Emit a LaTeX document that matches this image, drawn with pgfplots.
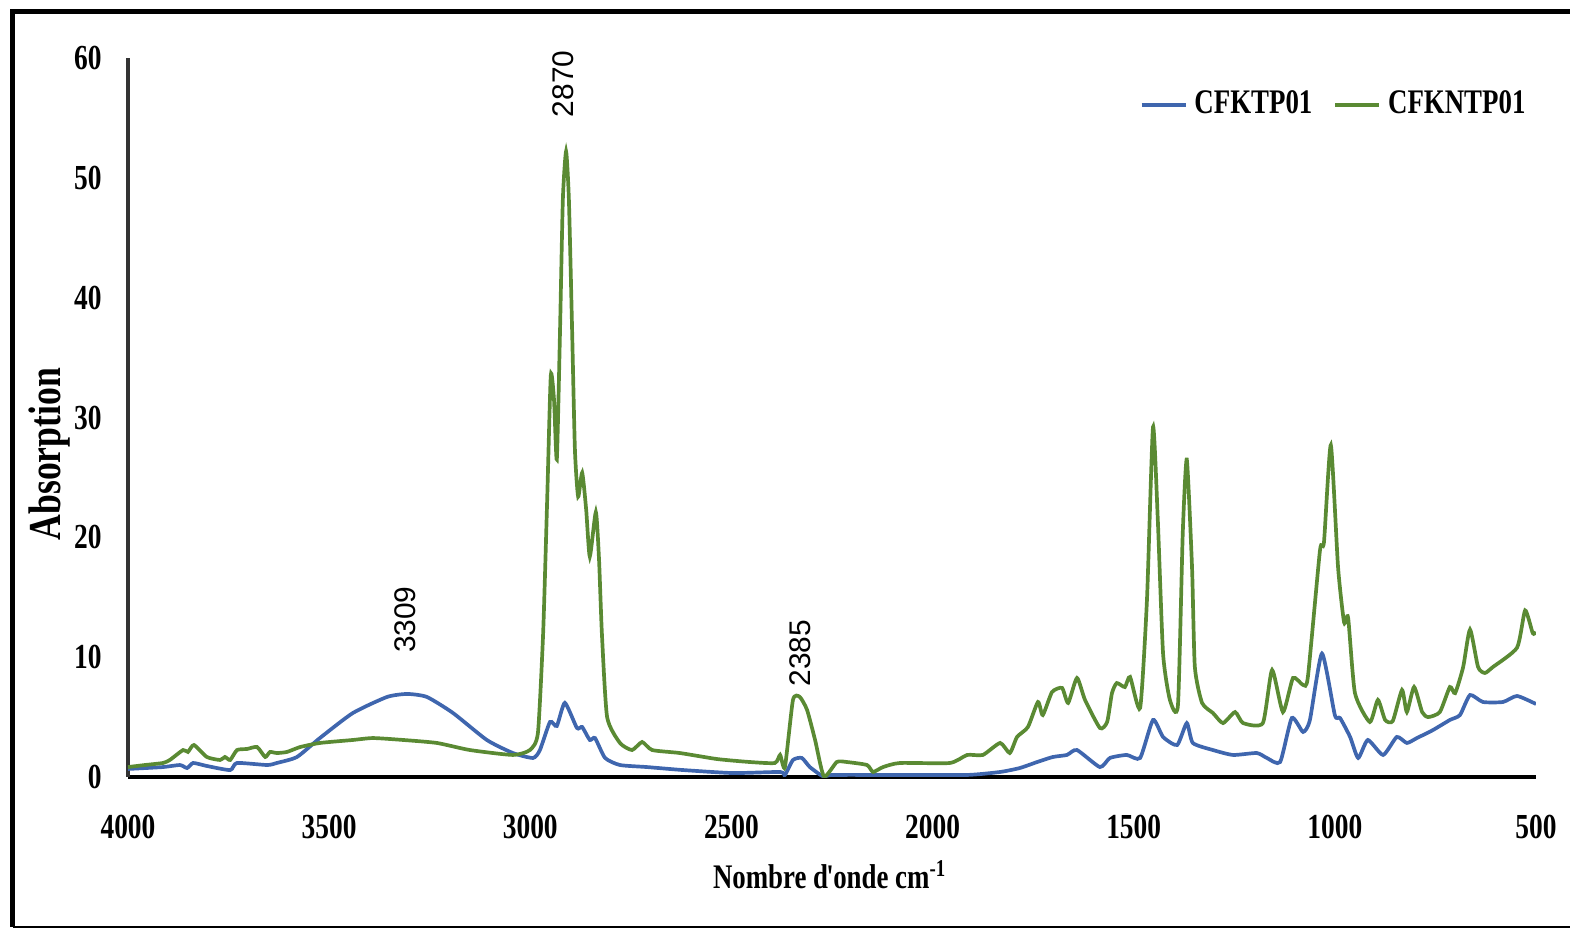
\documentclass[border=0pt]{standalone}
\usepackage{fontspec}
\setmainfont{Liberation Serif}[FakeStretch=0.78]
\newfontfamily\annotfont{Liberation Sans}
\usepackage{pgfplots}
\pgfplotsset{compat=1.18}
\definecolor{bluel}{HTML}{3F66AE}
\definecolor{greenl}{HTML}{5A8A33}

\begin{document}
\begin{tikzpicture}[x=1cm,y=1cm]
\path[use as bounding box] (0,0) rectangle (15.70,9.29);
% outer frame
\draw[line width=0.45mm] (0.125,0.02) -- (0.125,9.175) -- (15.80,9.175);
\draw[line width=0.25mm] (0.125,0.02) -- (15.80,0.02);
\begin{axis}[
  at={(1.28cm,1.52cm)}, anchor=south west,
  scale only axis, width=14.08cm, height=7.19cm,
  clip mode=individual,
  x dir=reverse,
  xmin=500, xmax=4000, ymin=0, ymax=60,
  xtick={500,1000,...,4000}, ytick={0,10,...,60},
  axis x line*=bottom, axis y line*=left,
  x axis line style={-, line width=1.3pt, black},
  y axis line style={-, line width=0.9pt, black!80},
  major tick length=0pt,
  scaled ticks=false,
  /pgf/number format/1000 sep={},
  /pgf/number format/assume math mode=true,
  tick label style={font=\fontsize{10}{12}\selectfont\bfseries},
  xticklabel style={yshift=-2.6mm},
  yticklabel style={xshift=-1.4mm},
  xlabel={Nombre d\kern-0.05em\textquotesingle\kern-0.08em onde cm\textsuperscript{-1}},
  ylabel={Absorption},
  xlabel style={at={(axis description cs:0.4986,-0.136)}, anchor=center,
    font=\fontsize{9.8}{12}\selectfont\bfseries},
  ylabel style={at={(axis description cs:-0.056,0.449)}, anchor=center,
    font=\fontsize{13}{14}\selectfont\bfseries},
  legend columns=2,
  legend style={at={(rel axis cs:0.998,0.935)}, anchor=east, draw=none, fill=none,
    inner sep=0pt, font=\fontsize{9.8}{12}\selectfont\bfseries,
    /tikz/every even column/.append style={column sep=1.4mm}},
  legend image code/.code={\draw[#1] (0cm,0cm) -- (0.44cm,0cm);},
  legend cell align=left,
]
\addplot[bluel, line width=1.05pt, smooth, tension=0.35] coordinates {
(4000,0.67) (3913,0.83) (3871,1.0) (3853,0.75) (3838,1.17) (3804,0.92)
(3746,0.58) (3729,1.17) (3654,1.0) (3630,1.17) (3580,1.67) (3523,3.25)
(3441,5.34) (3356,6.68) (3306,6.93) (3257,6.68) (3192,5.34) (3108,3.09)
(3043,2.0) (2993,1.59) (2976,2.25) (2951,4.59) (2934,4.26) (2914,6.18)
(2884,4.09) (2871,4.17) (2852,3.09) (2839,3.25) (2814,1.59) (2777,1.0)
(2710,0.83) (2620,0.58) (2496,0.33) (2379,0.42) (2367,0.17) (2347,1.42)
(2325,1.59) (2305,0.83) (2272,0.05) (2247,0.17) (2081,0.17) (1914,0.17)
(1832,0.42) (1783,0.75) (1740,1.25) (1701,1.67) (1666,1.84) (1641,2.25)
(1584,0.83) (1559,1.59) (1517,1.84) (1484,1.59) (1452,4.76) (1427,3.34)
(1392,2.67) (1368,4.5) (1353,2.84) (1303,2.25) (1253,1.84) (1194,2.0)
(1169,1.59) (1136,1.25) (1107,4.92) (1079,3.76) (1062,4.76) (1032,10.3)
(1000,5.17) (987,4.92) (962,3.34) (942,1.59) (918,3.09) (880,1.84)
(846,3.34) (821,2.84) (796,3.25) (756,3.92) (714,4.76) (689,5.17)
(664,6.84) (632,6.26) (582,6.26) (547,6.76) (500,6.09)
};
\addlegendentry{CFKTP01}
\addplot[greenl, line width=1.05pt, smooth, tension=0.35] coordinates {
(4000,0.83) (3958,1.0) (3913,1.17) (3896,1.42) (3863,2.25) (3851,2.09)
(3836,2.67) (3804,1.67) (3771,1.42) (3759,1.67) (3746,1.42) (3729,2.25)
(3704,2.34) (3679,2.5) (3659,1.67) (3647,2.09) (3630,2.0) (3605,2.09)
(3572,2.5) (3523,2.84) (3441,3.09) (3391,3.25) (3316,3.09) (3232,2.84)
(3150,2.25) (3043,1.84) (3001,2.25) (2981,3.67) (2968,12.0) (2958,23.1)
(2949,33.5) (2941,31.5) (2934,26.5) (2926,37.3) (2919,48.2) (2911,52.2)
(2904,48.2) (2896,37.3) (2889,27.3) (2881,23.4) (2871,25.4) (2861,22.3)
(2852,18.4) (2837,22.1) (2829,18.1) (2822,12.0) (2809,5.0) (2777,2.84)
(2747,2.25) (2722,2.92) (2697,2.25) (2628,2.0) (2536,1.5) (2454,1.25)
(2392,1.17) (2379,1.84) (2367,0.83) (2347,6.43) (2330,6.68) (2312,5.6)
(2292,3.09) (2270,0.05) (2238,1.25) (2213,1.25) (2163,1.0) (2148,0.42)
(2123,0.83) (2081,1.17) (1957,1.17) (1914,1.84) (1875,1.84) (1832,2.84)
(1808,2.0) (1790,3.34) (1763,4.17) (1738,6.26) (1726,5.17) (1703,7.09)
(1678,7.43) (1663,6.18) (1641,8.26) (1621,6.43) (1584,4.09) (1566,4.59)
(1554,7.0) (1542,7.84) (1522,7.51) (1509,8.35) (1484,5.76) (1467,14.8)
(1452,29.2) (1440,21.4) (1427,10.3) (1410,6.43) (1390,6.0) (1378,20.4)
(1368,26.5) (1355,17.5) (1348,9.18) (1330,6.18) (1303,5.34) (1278,4.5)
(1248,5.42) (1228,4.5) (1179,4.5) (1156,8.93) (1129,5.42) (1104,8.26)
(1079,7.68) (1067,8.35) (1037,18.9) (1027,19.6) (1010,27.7) (992,17.5)
(977,12.9) (967,13.3) (950,7.0) (913,4.59) (893,6.43) (875,4.76)
(856,4.67) (833,7.26) (821,5.42) (803,7.51) (783,5.42) (768,5.0)
(739,5.42) (714,7.51) (701,7.0) (681,9.18) (664,12.3) (644,9.18)
(627,8.68) (607,9.18) (547,10.8) (527,13.9) (508,12.0) (500,12.1)
};
\addlegendentry{CFKNTP01}
\node[rotate=90, anchor=west, inner sep=0pt, font=\annotfont\fontsize{8.5}{10}\selectfont] at (axis cs:3311,10.3) {3309};
\node[rotate=90, anchor=west, inner sep=0pt, font=\annotfont\fontsize{8.5}{10}\selectfont] at (axis cs:2919,55.0) {2870};
\node[rotate=90, anchor=west, inner sep=0pt, font=\annotfont\fontsize{8.5}{10}\selectfont] at (axis cs:2330,7.5) {2385};
\end{axis}
\end{tikzpicture}
\end{document}
